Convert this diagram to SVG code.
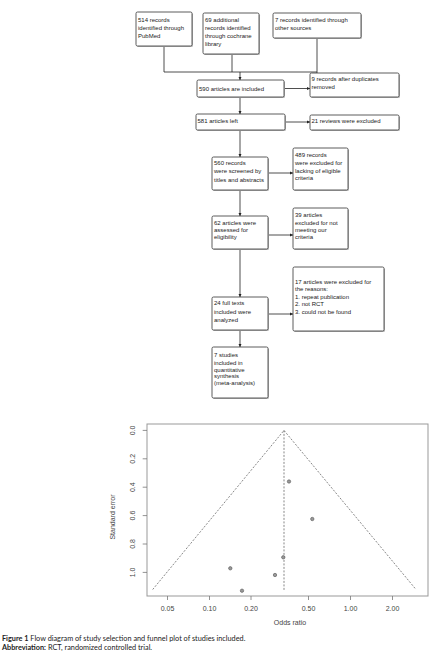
<svg xmlns="http://www.w3.org/2000/svg" width="444" height="656" viewBox="0 0 444 656">
<defs>
<marker id="ah" viewBox="0 0 6 6" refX="6" refY="3" markerWidth="3.5" markerHeight="3.5" orient="auto" markerUnits="userSpaceOnUse">
<path d="M0,0 L6,3 L0,6 z" fill="#222"/>
</marker>
<style>
.bx{fill:#fff;stroke:#333;stroke-width:0.8}
.sh{fill:#bbb;stroke:none}
.t{font-family:"Liberation Sans",Arial,sans-serif;font-size:6px;fill:#222}
.c{fill:none;stroke:#222;stroke-width:0.8}
.a{fill:none;stroke:#222;stroke-width:0.8;marker-end:url(#ah)}
.ax{fill:none;stroke:#999;stroke-width:1}
.tk{fill:none;stroke:#777;stroke-width:0.8}
.dl{fill:none;stroke:#555;stroke-width:0.7;stroke-dasharray:2 1.5}
.lab{font-family:"Liberation Sans",Arial,sans-serif;font-size:7px;fill:#444}
.pt{fill:#999;stroke:#555;stroke-width:0.6}
.cap{font-family:Lato,"Open Sans",sans-serif;font-size:7.3px;fill:#222}
</style>
</defs>
<rect width="444" height="656" fill="#fff"/>

<g id="connectors">
<path class="c" d="M164,46 V72 M232,54 V72 M164,72 H317 M317,38 V73"/>
<path class="a" d="M240,72 V80"/>
<path class="a" d="M284,88.5 H310"/>
<path class="a" d="M240,97 V114"/>
<path class="a" d="M285,122 H310"/>
<path class="a" d="M240,130 V157"/>
<path class="a" d="M268,173 H293"/>
<path class="a" d="M240,190 V216"/>
<path class="a" d="M268,235 H293"/>
<path class="a" d="M240,249 V297"/>
<path class="a" d="M268,314 H293"/>
<path class="a" d="M240,330 V347"/>
</g>

<g id="n514">
<rect class="sh" x="137" y="13" width="56" height="34" rx="1.5"/>
<rect class="bx" x="136" y="12" width="56" height="34" rx="1.5"/>
<text class="t" x="138" y="22">514 records</text>
<text class="t" x="138" y="30">identified through</text>
<text class="t" x="138" y="37.5">PubMed</text>
</g>
<g id="n69">
<rect class="sh" x="204" y="14" width="56" height="41" rx="1.5"/>
<rect class="bx" x="203" y="13" width="56" height="41" rx="1.5"/>
<text class="t" x="205" y="22">69 additional</text>
<text class="t" x="205" y="30">records identified</text>
<text class="t" x="205" y="37.5">through cochrane</text>
<text class="t" x="205" y="45.5">library</text>
</g>
<g id="n7src">
<rect class="sh" x="274" y="14" width="88" height="25" rx="1.5"/>
<rect class="bx" x="273" y="13" width="88" height="25" rx="1.5"/>
<text class="t" x="275" y="22">7 records identified through</text>
<text class="t" x="275" y="29.5">other sources</text>
</g>
<g id="n590">
<rect class="sh" x="198" y="81" width="87" height="17" rx="1.5"/>
<rect class="bx" x="197" y="80" width="87" height="17" rx="1.5"/>
<text class="t" x="199" y="90.5">590 articles are included</text>
</g>
<g id="n9">
<rect class="sh" x="311" y="74" width="89" height="24" rx="1.5"/>
<rect class="bx" x="310" y="73" width="89" height="24" rx="1.5"/>
<text class="t" x="311.5" y="81">9 records after duplicates</text>
<text class="t" x="311.5" y="88.7">removed</text>
</g>
<g id="n581">
<rect class="sh" x="197" y="115" width="89" height="16" rx="1.5"/>
<rect class="bx" x="196" y="114" width="89" height="16" rx="1.5"/>
<text class="t" x="197.5" y="123">581 articles left</text>
</g>
<g id="n21">
<rect class="sh" x="311" y="116" width="89" height="15" rx="1.5"/>
<rect class="bx" x="310" y="115" width="89" height="15" rx="1.5"/>
<text class="t" x="311.5" y="123">21 reviews were excluded</text>
</g>
<g id="n560">
<rect class="sh" x="213" y="158" width="56" height="33" rx="1.5"/>
<rect class="bx" x="212" y="157" width="56" height="33" rx="1.5"/>
<text class="t" x="214" y="165">560 records</text>
<text class="t" x="214" y="173">were screened by</text>
<text class="t" x="214" y="181.5">titles and abstracts</text>
</g>
<g id="n489">
<rect class="sh" x="294" y="149" width="55" height="42" rx="1.5"/>
<rect class="bx" x="293" y="148" width="55" height="42" rx="1.5"/>
<text class="t" x="295" y="157">489 records</text>
<text class="t" x="295" y="164.7">were excluded for</text>
<text class="t" x="295" y="172.7">lacking of eligible</text>
<text class="t" x="295" y="180.3">criteria</text>
</g>
<g id="n62">
<rect class="sh" x="213" y="217" width="56" height="33" rx="1.5"/>
<rect class="bx" x="212" y="216" width="56" height="33" rx="1.5"/>
<text class="t" x="214" y="224.7">62 articles were</text>
<text class="t" x="214" y="232">assessed for</text>
<text class="t" x="214" y="238.7">eligibility</text>
</g>
<g id="n39">
<rect class="sh" x="294" y="209" width="55" height="41" rx="1.5"/>
<rect class="bx" x="293" y="208" width="55" height="41" rx="1.5"/>
<text class="t" x="295" y="217">39 articles</text>
<text class="t" x="295" y="224.7">excluded for not</text>
<text class="t" x="295" y="232">meeting our</text>
<text class="t" x="295" y="238.7">criteria</text>
</g>
<g id="n24">
<rect class="sh" x="213" y="298" width="56" height="33" rx="1.5"/>
<rect class="bx" x="212" y="297" width="56" height="33" rx="1.5"/>
<text class="t" x="214" y="305">24 full texts</text>
<text class="t" x="214" y="313.7">included were</text>
<text class="t" x="214" y="322">analyzed</text>
</g>
<g id="n17">
<rect class="sh" x="294" y="268" width="91" height="64" rx="1.5"/>
<rect class="bx" x="293" y="267" width="91" height="64" rx="1.5"/>
<text class="t" x="295" y="284">17 articles were excluded for</text>
<text class="t" x="295" y="291">the reasons:</text>
<text class="t" x="295" y="298.7">1. repeat publication</text>
<text class="t" x="295" y="306">2. not RCT</text>
<text class="t" x="295" y="313.7">3. could not be found</text>
</g>
<g id="n7">
<rect class="sh" x="213" y="348" width="56" height="51" rx="1.5"/>
<rect class="bx" x="212" y="347" width="56" height="51" rx="1.5"/>
<text class="t" x="214" y="357">7 studies</text>
<text class="t" x="214" y="365">included in</text>
<text class="t" x="214" y="371.5">quantitative</text>
<text class="t" x="214" y="378">synthesis</text>
<text class="t" x="214" y="385.3">(meta-analysis)</text>
</g>

<g id="funnel">
<rect class="ax" x="147" y="424" width="281" height="172"/>
<path class="tk" d="M142.7,430.4 H147 M142.7,458.8 H147 M142.7,487.2 H147 M142.7,515.6 H147 M142.7,544 H147 M142.7,572.4 H147"/>
<g class="lab" text-anchor="middle">
<text transform="translate(134.5,430.4) rotate(-90)">0.0</text>
<text transform="translate(134.5,458.8) rotate(-90)">0.2</text>
<text transform="translate(134.5,487.2) rotate(-90)">0.4</text>
<text transform="translate(134.5,515.6) rotate(-90)">0.6</text>
<text transform="translate(134.5,544) rotate(-90)">0.8</text>
<text transform="translate(134.5,572.4) rotate(-90)">1.0</text>
<text transform="translate(114.5,517) rotate(-90)">Standard error</text>
</g>
<path class="tk" d="M167.5,596 V600 M209.5,596 V600 M251,596 V600 M308.5,596 V600 M350.5,596 V600 M392.5,596 V600"/>
<g class="lab" text-anchor="middle">
<text x="167.5" y="610.5">0.05</text>
<text x="209.5" y="610.5">0.10</text>
<text x="251" y="610.5">0.20</text>
<text x="308.5" y="610.5">0.50</text>
<text x="350.5" y="610.5">1.00</text>
<text x="392.5" y="610.5">2.00</text>
<text x="290" y="625">Odds ratio</text>
</g>
<path class="dl" d="M152.7,589.5 L284,430.4 L416,589.5 M284,430.4 V590"/>
<circle class="pt" cx="289" cy="481.5" r="1.7"/>
<circle class="pt" cx="312.3" cy="519" r="1.7"/>
<circle class="pt" cx="283.3" cy="557.3" r="1.7"/>
<circle class="pt" cx="230.3" cy="568.3" r="1.7"/>
<circle class="pt" cx="275" cy="575" r="1.7"/>
<circle class="pt" cx="242" cy="590.7" r="1.7"/>
</g>

<g id="caption">
<text class="cap" x="2" y="640.5"><tspan font-weight="bold">Figure 1</tspan> Flow diagram of study selection and funnel plot of studies included.</text>
<text class="cap" x="2" y="650"><tspan font-weight="bold">Abbreviation:</tspan> RCT, randomized controlled trial.</text>
</g>
</svg>
